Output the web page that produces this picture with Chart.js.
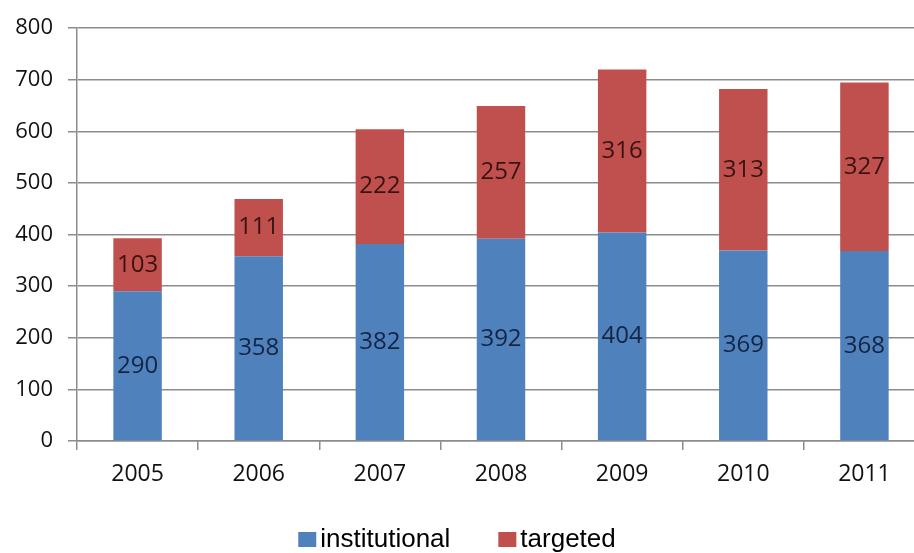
<!DOCTYPE html>
<html>
<head>
<meta charset="utf-8">
<script src="https://cdn.jsdelivr.net/npm/chart.js@4"></script>
<style>
  html, body { margin: 0; padding: 0; background: #ffffff; overflow: hidden; }
  #wrap { position: relative; width: 940px; height: 553px; }
</style>
</head>
<body>
<div id="wrap"><canvas id="chart"></canvas></div>
<script>
// Annual counts, split by type
const years = ['2005', '2006', '2007', '2008', '2009', '2010', '2011'];
const institutional = [290, 358, 382, 392, 404, 369, 368];
const targeted = [103, 111, 222, 257, 316, 313, 327];
const yTicks = [0, 100, 200, 300, 400, 500, 600, 700, 800];

const GRID = '#8c8c8c';
const VISIBLE_WIDTH = 914;

// Writes each segment's value in the middle of its bar piece
const segmentLabels = {
  id: 'segmentLabels',
  afterDatasetsDraw(chart) {
    const ctx = chart.ctx;
    ctx.save();
    ctx.font = '24px "Open Sans"';
    ctx.textAlign = 'center';
    ctx.textBaseline = 'middle';
    chart.data.datasets.forEach((ds, di) => {
      const meta = chart.getDatasetMeta(di);
      ctx.fillStyle = ds.labelColor;
      meta.data.forEach((bar, i) => {
        const mid = (bar.y + bar.base) / 2;
        ctx.fillText(String(ds.data[i]), bar.x, mid);
      });
    });
    ctx.restore();
  }
};

// Compact legend row under the axis: square swatch hugging its label
const bottomLegend = {
  id: 'bottomLegend',
  afterDraw(chart) {
    const ctx = chart.ctx;
    const box = { w: 18, h: 15 };
    const gapBoxText = 4;
    const gapItems = 48;
    const baseline = 547;
    ctx.save();
    ctx.font = '26px "Liberation Sans", Arial, sans-serif';
    ctx.textBaseline = 'alphabetic';
    ctx.textAlign = 'left';
    const items = chart.data.datasets.map(ds => ({
      text: ds.label, color: ds.backgroundColor, w: ctx.measureText(ds.label).width
    }));
    let total = 0;
    items.forEach((it, i) => { total += box.w + gapBoxText + it.w + (i ? gapItems : 0); });
    let x = VISIBLE_WIDTH / 2 - total / 2;
    items.forEach(it => {
      ctx.fillStyle = it.color;
      ctx.fillRect(x, baseline - box.h, box.w, box.h);
      x += box.w + gapBoxText;
      ctx.fillStyle = '#000000';
      ctx.fillText(it.text, x, baseline);
      x += it.w + gapItems;
    });
    ctx.restore();
  }
};

new Chart(document.getElementById('chart'), {
  type: 'bar',
  data: {
    labels: years,
    datasets: [
      { label: 'institutional', data: institutional, backgroundColor: '#4f81bd', labelColor: '#142544' },
      { label: 'targeted', data: targeted, backgroundColor: '#c0504d', labelColor: '#3a1212' }
    ]
  },
  options: {
    responsive: true,
    maintainAspectRatio: false,
    animation: false,
    barPercentage: 0.8,
    categoryPercentage: 0.5,
    layout: { padding: { top: 26, right: 15, left: 0, bottom: 31 } },
    plugins: {
      tooltip: { enabled: false },
      legend: { display: false }
    },
    scales: {
      x: {
        stacked: true,
        grid: { offset: true, drawOnChartArea: false, color: GRID, lineWidth: 1.5, tickLength: 9 },
        border: { color: GRID, width: 1.5 },
        ticks: { font: { family: '"Open Sans"', size: 23 }, color: '#111111', padding: 11 },
        afterFit(scale) { scale.height = 81; }
      },
      y: {
        stacked: true,
        min: 0,
        max: 800,
        afterBuildTicks(scale) { scale.ticks = yTicks.map(v => ({ value: v })); },
        grid: { color: GRID, lineWidth: 1.5, tickLength: 9 },
        border: { color: GRID, width: 1.5 },
        ticks: { font: { family: '"Open Sans"', size: 22 }, color: '#111111', padding: 15 },
        afterFit(scale) { scale.width = 77; }
      }
    }
  },
  plugins: [segmentLabels, bottomLegend]
});
</script>
</body>
</html>
